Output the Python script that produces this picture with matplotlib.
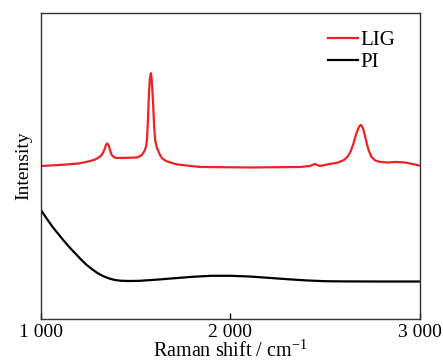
import matplotlib
matplotlib.use("Agg")
import matplotlib.pyplot as plt
from matplotlib.ticker import FuncFormatter

plt.rcParams['font.family'] = ['Liberation Serif', 'DejaVu Serif']
plt.rcParams['mathtext.fontset'] = 'custom'
plt.rcParams['mathtext.rm'] = 'Liberation Serif'

# Raman spectra (wavenumber in cm-1, intensity in a.u.)
lig_shift = [1000, 1100, 1200, 1250, 1280, 1300, 1315, 1326, 1335, 1343,
             1350, 1357, 1365, 1372, 1380, 1395, 1433, 1507, 1530, 1545,
             1555, 1560, 1565, 1570, 1575, 1580, 1584, 1588, 1593, 1598,
             1603, 1610, 1618, 1628, 1640, 1660, 1690, 1720, 1839, 2103,
             2367, 2420, 2446, 2472, 2525, 2570, 2600, 2620, 2635, 2650,
             2665, 2680, 2690, 2700, 2710, 2720, 2730, 2745, 2765, 2790,
             2830, 2877, 2921, 2974, 2995]
lig_int = [152.5, 153.5, 155, 157, 158.5, 160.5, 162.5, 165, 169, 173.5,
           175, 173, 168, 164, 162, 160.5, 160.5, 161, 163, 167,
           172, 180, 200, 225, 240, 245, 240, 228, 210, 190,
           178, 172, 168, 163.5, 160, 157.5, 155.5, 154, 151.5, 151,
           151.5, 152.5, 154.5, 152.5, 154.5, 156, 158.5, 162, 167, 175,
           185, 192, 193.5, 190, 183, 175, 168, 161.5, 158, 156.5,
           156, 156.5, 156, 154, 153]

pi_shift = [1000, 1030, 1060, 1090, 1120, 1150, 1180, 1210, 1240, 1270,
            1300, 1330, 1360, 1390, 1420, 1460, 1520, 1600, 1700, 1800,
            1900, 2000, 2100, 2200, 2300, 2400, 2500, 2600, 2800, 3000]
pi_int = [108.5, 100, 92, 85, 78, 71.5, 65.5, 59.5, 54, 49.5,
          45.5, 42.5, 40.3, 38.8, 38.1, 37.8, 38, 39, 40.5, 42,
          43, 43, 42.3, 41, 39.6, 38.4, 37.6, 37.4, 37.3, 37.3]

xticks = [1000, 2000, 3000]

fig = plt.figure(figsize=(4.43, 3.62), dpi=100)
ax = fig.add_axes([0.0926, 0.119, 0.855, 0.845])

ax.plot(lig_shift, lig_int, color='#ee2222', lw=1.6, label='LIG',
        solid_joinstyle='round')
ax.plot(pi_shift, pi_int, color='black', lw=1.6, label='PI',
        solid_joinstyle='round')

ax.set_xlim(1000, 3000)
ax.set_ylim(0, 305)
ax.set_xticks(xticks)
ax.xaxis.set_major_formatter(FuncFormatter(lambda v, p: f"{int(v):,}".replace(",", " ")))
ax.tick_params(axis='x', direction='in', length=4, width=1, labelsize=14, pad=4)
ax.set_yticks([])
for s in ax.spines.values():
    s.set_linewidth(1.0)
    s.set_color('#333333')

ax.set_xlabel(r"Raman shift / cm$^{-1}$", fontsize=14.5, labelpad=-1)
ax.set_ylabel("Intensity", fontsize=14, labelpad=6)

ax.legend(loc='upper right', bbox_to_anchor=(0.975, 0.99), frameon=False,
          fontsize=15, handlelength=1.45, handletextpad=0.15,
          labelspacing=0.1, borderaxespad=0.3)

fig.savefig("out.png", dpi=100)
